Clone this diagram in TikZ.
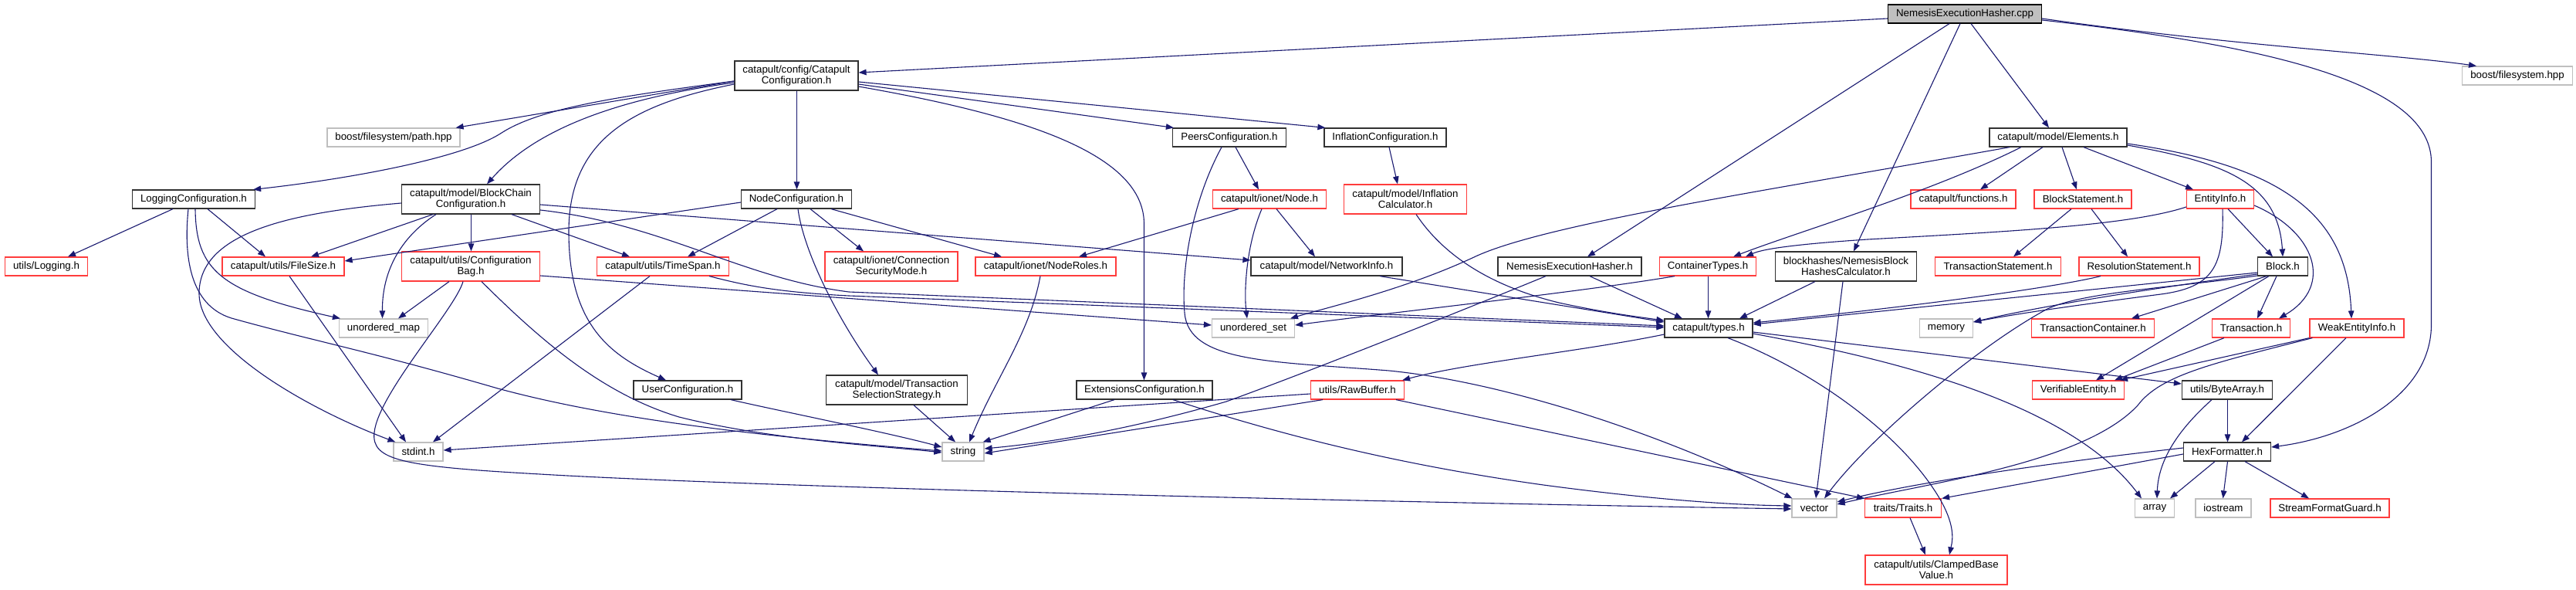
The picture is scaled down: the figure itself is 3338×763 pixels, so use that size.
\documentclass[tikz,border=0pt]{standalone}
\usepackage{fontspec}
\setmainfont{Liberation Sans}
\usetikzlibrary{arrows.meta}
\definecolor{edgec}{RGB}{25,25,112}
\definecolor{redb}{RGB}{255,60,60}
\definecolor{greyb}{RGB}{191,191,191}
\definecolor{blackb}{RGB}{50,50,50}
\definecolor{rootf}{RGB}{191,191,191}
\newcommand{\nfont}{\fontsize{13.33pt}{13.6pt}\selectfont}
\begin{document}
\begin{tikzpicture}[x=1pt,y=-1pt,
  nb/.style={rectangle, inner sep=0pt, minimum height=24pt, align=center, font=\nfont, line width=1.2pt, fill=white},
  blk/.style={nb, draw=blackb},
  trc/.style={nb, draw=redb},
  ext/.style={nb, draw=greyb},
  rootn/.style={nb, draw=black, fill=rootf},
  two/.style={minimum height=38pt},
  dep/.style={draw=edgec, line width=1.1pt, -{Triangle[length=10pt,width=7.5pt]}}]
\fill[white] (0,0) rectangle (3338,763);
\useasboundingbox (0,0) rectangle (3338,763);
% row 0
\node[rootn, minimum width=199pt] (cpp) at (2546,18) {NemesisExecutionHasher.cpp};
% row 1
\node[blk, two, minimum width=160pt] (cc) at (1032,98) {catapult/config/Catapult\\Configuration.h};
\node[ext, minimum width=143pt] (bfs) at (3262,98) {boost/filesystem.hpp};
% row 2
\node[ext, minimum width=172pt] (path) at (510,178) {boost/filesystem/path.hpp};
\node[blk, minimum width=147pt] (peers) at (1593,178) {PeersConfiguration.h};
\node[blk, minimum width=158pt] (infl) at (1795,178) {InflationConfiguration.h};
\node[blk, minimum width=178pt] (elem) at (2667,178) {catapult/model/Elements.h};
% row 3
\node[blk, minimum width=159pt] (logc) at (251,258) {LoggingConfiguration.h};
\node[blk, two, minimum width=179pt] (bcc) at (610,258) {catapult/model/BlockChain\\Configuration.h};
\node[blk, minimum width=143pt] (nodec) at (1032,258) {NodeConfiguration.h};
\node[trc, minimum width=147pt] (node) at (1645,258) {catapult/ionet/Node.h};
\node[trc, two, minimum width=159pt] (inflc) at (1821,258) {catapult/model/Inflation\\Calculator.h};
\node[trc, minimum width=136pt] (func) at (2544,258) {catapult/functions.h};
\node[trc, minimum width=126pt] (bst) at (2699,258) {BlockStatement.h};
\node[trc, minimum width=87pt] (einfo) at (2877,258) {EntityInfo.h};
% row 4
\node[trc, minimum width=107pt] (logh) at (60,345) {utils/Logging.h};
\node[trc, minimum width=158pt] (fsize) at (367,345) {catapult/utils/FileSize.h};
\node[trc, two, minimum width=179pt] (cbag) at (610,345) {catapult/utils/Configuration\\Bag.h};
\node[trc, minimum width=171pt] (tspan) at (859,345) {catapult/utils/TimeSpan.h};
\node[trc, two, minimum width=172pt] (csm) at (1155,345) {catapult/ionet/Connection\\SecurityMode.h};
\node[trc, minimum width=182pt] (nroles) at (1355,345) {catapult/ionet/NodeRoles.h};
\node[blk, minimum width=196pt] (ninfo) at (1719,345) {catapult/model/NetworkInfo.h};
\node[blk, minimum width=186pt] (neh) at (2034,345) {NemesisExecutionHasher.h};
\node[trc, minimum width=125pt] (ctypes) at (2213,345) {ContainerTypes.h};
\node[blk, two, minimum width=183pt] (nbhc) at (2392,345) {blockhashes/NemesisBlock\\HashesCalculator.h};
\node[trc, minimum width=163pt] (tst) at (2589,345) {TransactionStatement.h};
\node[trc, minimum width=156pt] (rst) at (2772,345) {ResolutionStatement.h};
\node[blk, minimum width=65pt] (block) at (2958,345) {Block.h};
% row 5
\node[ext, minimum width=115pt] (umap) at (497,425) {unordered\_map};
\node[ext, minimum width=107pt] (uset) at (1624,425) {unordered\_set};
\node[blk, minimum width=114pt] (types) at (2214,425) {catapult/types.h};
\node[ext, minimum width=69pt] (mem) at (2522,425) {memory};
\node[trc, minimum width=159pt] (tcont) at (2712,425) {TransactionContainer.h};
\node[trc, minimum width=101pt] (trans) at (2917,425) {Transaction.h};
\node[trc, minimum width=122pt] (weak) at (3054,425) {WeakEntityInfo.h};
% row 6
\node[blk, minimum width=140pt] (userc) at (891,505) {UserConfiguration.h};
\node[blk, two, minimum width=183pt] (tss) at (1162,505) {catapult/model/Transaction\\SelectionStrategy.h};
\node[blk, minimum width=176pt] (extc) at (1483,505) {ExtensionsConfiguration.h};
\node[trc, minimum width=121pt] (rawb) at (1759,505) {utils/RawBuffer.h};
\node[trc, minimum width=119pt] (vent) at (2693,505) {VerifiableEntity.h};
\node[blk, minimum width=117pt] (barr) at (2886,505) {utils/ByteArray.h};
% row 7
\node[ext, minimum width=64pt] (stdint) at (542,585) {stdint.h};
\node[ext, minimum width=54pt] (string) at (1248,585) {string};
\node[blk, minimum width=113pt] (hexf) at (2886,585) {HexFormatter.h};
% row 8
\node[ext, minimum width=58pt] (vector) at (2351,658) {vector};
\node[trc, minimum width=99pt] (traits) at (2466,658) {traits/Traits.h};
\node[ext, minimum width=51pt] (array) at (2792,658) {array};
\node[ext, minimum width=72pt] (iostream) at (2881,658) {iostream};
\node[trc, minimum width=154pt] (sfg) at (3019,658) {StreamFormatGuard.h};
% row 9
\node[trc, two, minimum width=184pt] (cbv) at (2509,738) {catapult/utils/ClampedBase\\Value.h};

% ---- edges from cpp
\draw[dep] ([yshift=-6pt]cpp.west) -- ([yshift=4pt]cc.east);
\draw[dep] ([xshift=-20pt]cpp.south) -- ([xshift=23pt]neh.north);
\draw[dep] ([xshift=-6pt]cpp.south) -- ([xshift=10pt]nbhc.north);
\draw[dep] ([xshift=8pt]cpp.south) -- ([xshift=-12pt]elem.north);
\draw[dep] ([yshift=-6pt]cpp.east) .. controls (2900,60) and (3100,70) .. ([xshift=-53pt]bfs.north);
\draw[dep] ([yshift=-8pt]cpp.east) .. controls (2950,60) and (3150.5,110) .. (3150.5,210) -- (3150.5,420) .. controls (3150.5,510) and (3050,565) .. ([yshift=6pt]hexf.east);
% ---- from cc
\draw[dep] ([yshift=-7pt]cc.west) -- ([xshift=-6pt]path.north east);
\draw[dep] ([yshift=-7pt]cc.west) .. controls (800,125) and (700,140) .. (650,172) .. controls (600,205) and (450,232) .. ([xshift=-3pt]logc.north east);
\draw[dep] ([yshift=-9pt]cc.west) .. controls (820,125) and (700,160) .. ([xshift=21pt]bcc.north);
\draw[dep] ([yshift=-11pt]cc.west) .. controls (820,135) and (737,180) .. (737,300) .. controls (737,420) and (790,460) .. ([xshift=-28pt]userc.north);
\draw[dep] ([xshift=0.5pt]cc.south) -- ([xshift=0.5pt]nodec.north);
\draw[dep] ([yshift=-11pt]cc.east) -- ([xshift=2pt]peers.north west);
\draw[dep] ([yshift=-8pt]cc.east) -- ([xshift=2pt]infl.north west);
\draw[dep] ([yshift=-14pt]cc.east) .. controls (1330,150) and (1482.5,200) .. (1482.5,290) -- ([xshift=-0.5pt]extc.north);
% ---- from logc
\draw[dep] ([xshift=-27pt]logc.south) -- ([xshift=28pt]logh.north);
\draw[dep] ([xshift=18pt]logc.south) -- ([xshift=-23pt]fsize.north);
\draw[dep] ([xshift=2pt]logc.south) .. controls (254,350) and (285,378) .. ([xshift=2pt]umap.north west);
\draw[dep] ([xshift=-7pt]logc.south) .. controls (238,330) and (245,395) .. (300,412) .. controls (400,440) and (480,455) .. (645,503) .. controls (800,545) and (1000,566) .. ([yshift=1pt]string.west);
% ---- from bcc
\draw[dep] ([yshift=-5pt]bcc.west) .. controls (380,275) and (258,300) .. (258,380) .. controls (258,450) and (400,530) .. ([xshift=3pt]stdint.north west);
\draw[dep] ([xshift=-49pt]bcc.south) -- ([xshift=36pt]fsize.north);
\draw[dep] ([xshift=-45pt]bcc.south) .. controls (530,300) and (495,340) .. ([xshift=-1.5pt]umap.north);
\draw[dep] ([xshift=0.5pt]bcc.south) -- ([xshift=0.5pt]cbag.north);
\draw[dep] ([xshift=53pt]bcc.south) -- ([xshift=-43pt]tspan.north);
\draw[dep] ([yshift=-7pt]bcc.east) -- ([yshift=8pt]ninfo.west);
\draw[dep] ([yshift=-14pt]bcc.east) .. controls (860,290) and (960,360) .. (1100,378) -- ([yshift=3pt]types.west);
% ---- from tspan
\draw[dep] ([xshift=-17pt]tspan.south) -- ([xshift=19pt]stdint.north);
\draw[dep] ([xshift=60pt]tspan.south) .. controls (960,368) and (1000,378) .. (1100,383) -- ([yshift=1pt]types.west);
% ---- from cbag
\draw[dep] ([xshift=-28pt]cbag.south) -- ([xshift=19pt]umap.north);
\draw[dep] ([xshift=-10pt]cbag.south) .. controls (590,400) and (490,510) .. (485,560) .. controls (481,596) and (520,604) .. (700,614) .. controls (900,626) and (1500,645) .. ([yshift=-1pt]vector.west);
\draw[dep] ([xshift=14pt]cbag.south) .. controls (700,440) and (780,510) .. (880,540) .. controls (1000,570) and (1150,578) .. ([yshift=-1pt]string.west);
\draw[dep] ([yshift=-12pt]cbag.east) -- ([yshift=4pt]uset.west);
% ---- from fsize
\draw[dep] ([xshift=8pt]fsize.south) -- ([xshift=-16pt]stdint.north);
% ---- from nodec
\draw[dep] ([yshift=-4pt]nodec.west) -- ([yshift=7pt]fsize.east);
\draw[dep] ([xshift=-25pt]nodec.south) -- ([xshift=32pt]tspan.north);
\draw[dep] ([xshift=2pt]nodec.south) .. controls (1042,330) and (1090,420) .. ([xshift=-24pt]tss.north);
\draw[dep] ([xshift=18pt]nodec.south) -- ([xshift=-36pt]csm.north);
\draw[dep] ([xshift=45pt]nodec.south) -- ([xshift=-57pt]nroles.north);
% ---- from peers
\draw[dep] ([xshift=8pt]peers.south) -- ([xshift=-14pt]node.north);
\draw[dep] ([xshift=-10pt]peers.south) .. controls (1545,260) and (1530,350) .. (1535,405) .. controls (1540,470) and (1650,468) .. (1800,480) .. controls (1950,495) and (2150,560) .. ([xshift=1pt]vector.north west);
% ---- from node
\draw[dep] ([xshift=-40pt]node.south) -- ([xshift=43pt]nroles.north);
\draw[dep] ([xshift=-10pt]node.south) .. controls (1614,320) and (1612,380) .. ([xshift=-8pt]uset.north);
\draw[dep] ([xshift=9pt]node.south) -- ([xshift=-15pt]ninfo.north);
% ---- infl, inflc
\draw[dep] ([xshift=5pt]infl.south) -- ([xshift=-10pt]inflc.north);
\draw[dep] ([xshift=14pt]inflc.south) .. controls (1870,330) and (1930,370) .. (2020,392) .. controls (2080,405) and (2120,410) .. ([yshift=10pt]types.west);
% ---- nroles, ninfo
\draw[dep] ([xshift=-7pt]nroles.south) .. controls (1335,430) and (1290,490) .. ([xshift=8pt]string.north);
\draw[dep] ([xshift=69pt]ninfo.south) -- ([yshift=8pt]types.west);
% ---- neh
\draw[dep] ([xshift=26pt]neh.south) -- ([xshift=-34pt]types.north);
\draw[dep] ([xshift=-31pt]neh.south) .. controls (1900,400) and (1700,480) .. (1589,520) .. controls (1450,560) and (1350,574) .. ([yshift=4pt]string.east);
% ---- ctypes
\draw[dep] ([xshift=0.5pt]ctypes.south) -- ([xshift=-0.5pt]types.north);
\draw[dep] ([xshift=-43pt]ctypes.south) .. controls (2050,378) and (1800,405) .. ([yshift=4pt]uset.east);
% ---- elem
\draw[dep] ([xshift=-63pt]elem.south) .. controls (2300,245) and (2000,290) .. (1910,333) .. controls (1820,375) and (1720,398) .. ([xshift=48pt]uset.north);
\draw[dep] ([xshift=-48pt]elem.south) .. controls (2500,250) and (2330,300) .. ([xshift=33pt]ctypes.north);
\draw[dep] ([xshift=-20pt]elem.south) -- ([xshift=22pt]func.north);
\draw[dep] ([xshift=5pt]elem.south) -- ([xshift=-8pt]bst.north);
\draw[dep] ([xshift=33pt]elem.south) -- ([xshift=-35pt]einfo.north);
\draw[dep] ([yshift=-10pt]elem.east) .. controls (2880,210) and (2952,235) .. (block.north);
\draw[dep] ([yshift=-8pt]elem.east) .. controls (2960,215) and (3042,280) .. ([xshift=-7pt]weak.north);
% ---- bst
\draw[dep] ([xshift=-15pt]bst.south) -- ([xshift=20pt]tst.north);
\draw[dep] ([xshift=11pt]bst.south) -- ([xshift=-15pt]rst.north);
% ---- einfo
\draw[dep] ([yshift=-10pt]einfo.west) .. controls (2760,292) and (2600,300) .. (2420,310) .. controls (2330,316) and (2285,322) .. ([xshift=49pt]ctypes.north);
\draw[dep] ([xshift=10pt]einfo.south) -- ([xshift=-13pt]block.north);
\draw[dep] ([xshift=3pt]einfo.south) .. controls (2882,345) and (2868,372) .. (2800,381) .. controls (2700,394) and (2620,405) .. ([yshift=8pt]mem.east);
\draw[dep] ([yshift=-8pt]einfo.east) .. controls (3000,300) and (3025,370) .. ([xshift=36pt]trans.north);
% ---- block
\draw[dep] ([yshift=-8pt]block.west) -- ([yshift=5pt]types.east);
\draw[dep] ([yshift=-10pt]block.west) .. controls (2800,372) and (2650,395) .. ([yshift=8pt]mem.east);
\draw[dep] ([yshift=-12pt]block.west) .. controls (2820,372) and (2700,378) .. (2653,400) .. controls (2560,450) and (2420,570) .. ([xshift=13pt]vector.north);
\draw[dep] ([xshift=-21pt]block.south) -- ([xshift=50pt]tcont.north);
\draw[dep] ([xshift=-18pt]block.south) -- ([xshift=23pt]vent.north);
\draw[dep] ([xshift=-8pt]block.south) -- ([xshift=8pt]trans.north);
% ---- rst, nbhc
\draw[dep] ([xshift=-50pt]rst.south) .. controls (2650,375) and (2450,400) .. ([yshift=7pt]types.east);
\draw[dep] ([xshift=-40pt]nbhc.south) -- ([xshift=40pt]types.north);
\draw[dep] ([xshift=-4pt]nbhc.south) -- ([xshift=2pt]vector.north);
% ---- types
\draw[dep] ([yshift=-8pt]types.west) .. controls (2050,455) and (1900,470) .. ([xshift=-3pt]rawb.north east);
\draw[dep] ([xshift=25pt]types.south) .. controls (2350,480) and (2460,560) .. (2510,640) .. controls (2535,680) and (2530,700) .. ([xshift=17pt]cbv.north);
\draw[dep] ([yshift=-5pt]types.east) -- ([yshift=8pt]barr.west);
\draw[dep] ([yshift=-7pt]types.east) .. controls (2450,465) and (2680,520) .. ([xshift=-17pt]array.north);
% ---- rawb
\draw[dep] ([yshift=-5pt]rawb.west) -- ([yshift=2pt]stdint.east);
\draw[dep] ([xshift=-45pt]rawb.south) -- ([yshift=-2pt]string.east);
\draw[dep] ([xshift=50pt]rawb.south) -- (traits.north west);
% ---- extc
\draw[dep] ([xshift=-39pt]extc.south) -- ([xshift=-2pt]string.north east);
\draw[dep] ([xshift=37pt]extc.south) .. controls (1650,560) and (1800,600) .. (2000,628) .. controls (2150,648) and (2250,654) .. ([yshift=3pt]vector.west);
% ---- userc, tss
\draw[dep] ([xshift=56pt]userc.south) .. controls (1000,530) and (1150,560) .. ([yshift=6pt]string.west);
\draw[dep] ([xshift=22pt]tss.south) -- ([xshift=-10pt]string.north);
% ---- trans, weak
\draw[dep] ([xshift=-35pt]trans.south) -- ([xshift=47pt]vent.north);
\draw[dep] (weak.south west) -- ([xshift=54pt]vent.north);
\draw[dep] ([xshift=4pt]weak.south west) .. controls (2870,470) and (2800,485) .. (2770,525) .. controls (2700,600) and (2500,625) .. ([yshift=5pt]vector.east);
\draw[dep] ([xshift=-14pt]weak.south) -- ([xshift=19pt]hexf.north);
% ---- barr
\draw[dep] ([xshift=0.5pt]barr.south) -- ([xshift=0.5pt]hexf.north);
\draw[dep] ([xshift=-20pt]barr.south) .. controls (2830,550) and (2797,590) .. ([xshift=3pt]array.north);
% ---- hexf
\draw[dep] ([yshift=5pt]hexf.west) .. controls (2650,600) and (2480,625) .. ([yshift=8pt]vector.east);
\draw[dep] ([yshift=-3pt]hexf.west) -- (traits.north east);
\draw[dep] ([xshift=-16pt]hexf.south) -- ([xshift=20pt]array.north);
\draw[dep] ([xshift=0.5pt]hexf.south) -- ([xshift=-0.5pt]iostream.north);
\draw[dep] ([xshift=23pt]hexf.south) -- ([xshift=-27pt]sfg.north);
% ---- traits
\draw[dep] ([xshift=9pt]traits.south) -- ([xshift=-14pt]cbv.north);
\end{tikzpicture}
\end{document}
